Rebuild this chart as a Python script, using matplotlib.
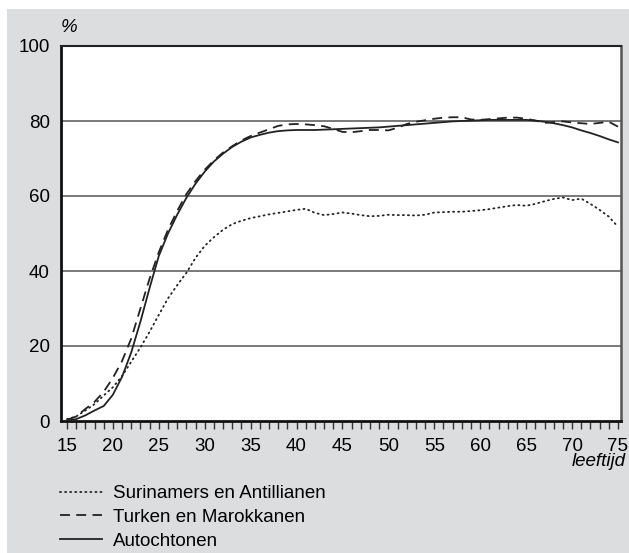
import matplotlib
matplotlib.use("Agg")
import matplotlib.pyplot as plt
from matplotlib.patches import Rectangle
from matplotlib.ticker import MultipleLocator

plt.rcParams['font.family'] = ['Liberation Sans', 'DejaVu Sans']

ages = list(range(15, 76))

surinamers = [0.5, 1.2, 2.8, 4.5, 6.8, 9.0, 12.0, 15.8, 19.6, 23.8,
              28.3, 32.7, 36.2, 39.5, 43.5, 46.7, 49.0, 51.0, 52.5, 53.4,
              54.1, 54.6, 55.1, 55.5, 55.9, 56.3, 56.6, 55.5, 54.9, 55.2,
              55.6, 55.3, 54.9, 54.6, 54.7, 55.0, 54.9, 54.9, 54.8, 55.0,
              55.6, 55.7, 55.8, 55.8, 56.0, 56.2, 56.5, 56.9, 57.3, 57.6,
              57.4, 57.9, 58.6, 59.2, 59.6, 58.9, 59.3, 57.9, 56.3, 54.5, 51.8]

turken = [0.3, 1.2, 3.2, 5.1, 7.8, 11.5, 16.0, 22.0, 30.0, 38.0,
          45.0, 51.0, 56.0, 60.5, 64.0, 67.0, 69.5, 71.6, 73.3, 74.8,
          76.0, 76.9, 77.8, 78.7, 79.1, 79.2, 79.1, 78.9, 78.6, 77.9,
          77.1, 77.0, 77.3, 77.6, 77.6, 77.5, 78.2, 79.2, 79.8, 80.2,
          80.6, 80.9, 81.0, 81.0, 80.4, 80.3, 80.5, 80.7, 80.9, 80.9,
          80.6, 80.1, 79.5, 79.7, 79.9, 79.6, 79.4, 79.2, 79.5, 79.8, 78.5]

autochtonen = [0.1, 0.5, 1.5, 2.8, 4.0, 7.0, 11.8, 18.3, 26.5, 35.5,
               44.0, 50.0, 55.0, 59.5, 63.3, 66.5, 69.2, 71.3, 73.1, 74.5,
               75.6, 76.3, 76.9, 77.3, 77.5, 77.6, 77.6, 77.6, 77.7, 77.8,
               77.9, 78.0, 78.1, 78.2, 78.3, 78.5, 78.7, 78.9, 79.1, 79.3,
               79.5, 79.7, 79.9, 80.0, 80.1, 80.2, 80.3, 80.3, 80.3, 80.3,
               80.3, 80.1, 79.8, 79.4, 78.9, 78.3, 77.5, 76.8, 76.0, 75.1, 74.3]

series_labels = ["Surinamers en Antillianen", "Turken en Marokkanen", "Autochtonen"]
x_ticks = [15, 20, 25, 30, 35, 40, 45, 50, 55, 60, 65, 70, 75]
y_ticks = [0, 20, 40, 60, 80, 100]

W, H = 629, 553
fig = plt.figure(figsize=(W / 100, H / 100), dpi=100)
fig.patch.set_facecolor('white')
bg = Rectangle((7 / W, 0), 1, 1 - 9 / H, transform=fig.transFigure,
               facecolor='#dcdddf', edgecolor='none', zorder=-10)
fig.add_artist(bg)

ax = fig.add_axes([61 / W, 1 - 421 / H, 560 / W, 375 / H])
ax.set_zorder(1)
ax.set_facecolor('white')

ax.set_xlim(14.35, 75.33)
ax.set_ylim(0, 100)

for y in [20, 40, 60, 80]:
    ax.axhline(y, color='#555555', lw=1.1, zorder=1)

fs = 13.5
l1, = ax.plot(ages, surinamers, color='#222222', lw=1.3, linestyle=(0, (0.6, 2.2)),
              dash_capstyle='round', zorder=3)
l2, = ax.plot(ages, turken, color='#222222', lw=1.3, linestyle=(0, (5.5, 3.5)), zorder=3)
l3, = ax.plot(ages, autochtonen, color='#222222', lw=1.3, linestyle='-', zorder=3)

ax.set_xticks(x_ticks)
ax.xaxis.set_minor_locator(MultipleLocator(1))
ax.set_yticks(y_ticks)
ax.tick_params(axis='x', which='both', direction='out', length=6, width=1.0,
               color='#333333', labelsize=fs, pad=6)
ax.tick_params(axis='y', which='both', length=0, labelsize=fs, pad=8)

for s in ['left', 'bottom']:
    ax.spines[s].set_linewidth(2.0)
    ax.spines[s].set_color('#111111')
ax.spines['top'].set_linewidth(1.5)
ax.spines['top'].set_color('#222222')
ax.spines['right'].set_linewidth(1.8)
ax.spines['right'].set_color('#555555')

fig.text(61 / W, 1 - 28 / H, "%", fontsize=fs, style='italic', ha='left', va='center')
fig.text(626 / W, 1 - 462 / H, "leeftijd", fontsize=fs, style='italic', ha='right', va='center')

leg = fig.legend([l1, l2, l3], series_labels, loc='upper left',
                 bbox_to_anchor=(60 / W, 1 - 485 / H), frameon=False, fontsize=fs,
                 handlelength=2.25, handletextpad=0.6, labelspacing=0.36,
                 borderaxespad=0, borderpad=0)

fig.savefig("out.png", dpi=100)
